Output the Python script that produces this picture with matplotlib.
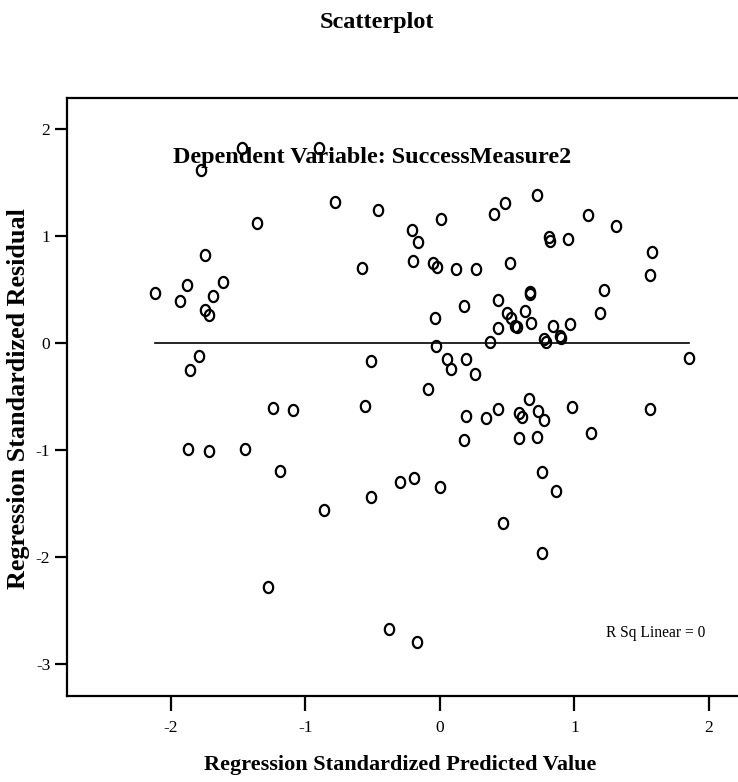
import numpy as np
import matplotlib
matplotlib.use("Agg")
import matplotlib.pyplot as plt
from matplotlib.path import Path

plt.rcParams['font.family'] = ['Liberation Serif', 'DejaVu Serif']
plt.rcParams['axes.unicode_minus'] = False

# ---- data ----
pred_x = [
    -2.12, -1.93, -1.88, -1.75, -1.69, -1.75, -1.72, -1.61, -1.78, -1.47,
    -0.90, -1.36, -0.78, -0.46, -0.58, -1.86, -1.79, -1.87, -1.72, -1.45,
    -1.24, -1.09, -1.19, -1.28, -0.86, -0.51, -0.56, -0.51,
    -0.21, -0.16, 0.01, -0.20, -0.05, -0.02, 0.12, 0.27, 0.40, 0.48,
    0.72, 0.52, 0.81, 0.82, 0.95, 1.10, 1.31, 1.58, 1.56, 0.67,
    0.67, 1.22, 1.19, 0.18, -0.04, 0.43, 0.50, 0.53, 0.56, 0.57,
    0.63, 0.68, 0.43, 0.84, 0.97, 0.89, 0.90, 0.77, 0.79, 0.37,
    -0.03, 1.85, 0.05, 0.08, 0.19, 0.26, -0.09,
    0.66, 0.43, 0.19, 0.34, 0.59, 0.61, 0.73, 0.77, 0.98, 1.56,
    1.12, 0.18, 0.59, 0.72, -0.30, -0.19, 0.00, 0.76, 0.86, 0.47,
    0.76, -0.38, -0.17,
]
resid_y = [
    0.47, 0.39, 0.54, 0.82, 0.44, 0.31, 0.26, 0.57, 1.62, 1.82,
    1.82, 1.12, 1.32, 1.24, 0.70, -0.25, -0.12, -0.99, -1.01, -0.99,
    -0.61, -0.63, -1.20, -2.28, -1.56, -1.44, -0.59, -0.17,
    1.06, 0.94, 1.16, 0.77, 0.75, 0.71, 0.69, 0.69, 1.21, 1.31,
    1.38, 0.75, 0.99, 0.95, 0.97, 1.20, 1.09, 0.85, 0.64, 0.48,
    0.46, 0.50, 0.28, 0.35, 0.23, 0.40, 0.28, 0.23, 0.16, 0.15,
    0.30, 0.19, 0.14, 0.16, 0.18, 0.07, 0.05, 0.04, 0.01, 0.01,
    -0.03, -0.14, -0.15, -0.24, -0.15, -0.29, -0.43,
    -0.52, -0.62, -0.68, -0.70, -0.65, -0.69, -0.64, -0.72, -0.60, -0.62,
    -0.84, -0.91, -0.89, -0.88, -1.30, -1.26, -1.35, -1.21, -1.38, -1.68,
    -1.96, -2.67, -2.79,
]
fit_slope = 0.0
fit_intercept = 0.0
x_ticks = [-2, -1, 0, 1, 2]
y_ticks = [-3, -2, -1, 0, 1, 2]

title = "Scatterplot"
subtitle = "Dependent Variable: SuccessMeasure2"
x_label = "Regression Standardized Predicted Value"
y_label = "Regression Standardized Residual"
r2_text = "R Sq Linear = 0"

# ---- figure ----
W, H = 738, 782
fig = plt.figure(figsize=(W / 100, H / 100), dpi=100)
L, R, T, B = 67, 745, 98, 696
ax = fig.add_axes([L / W, (H - B) / H, (R - L) / W, (B - T) / H])

# slightly narrow open-circle marker
th = np.linspace(0, 2 * np.pi, 72)
ell = Path(np.column_stack([0.84 * np.cos(th), np.sin(th)]))

ax.plot(pred_x, resid_y, linestyle='none', marker=ell, markersize=8.0,
        markerfacecolor='none', markeredgecolor='black', markeredgewidth=1.6,
        zorder=3)

xs = np.array([min(pred_x), max(pred_x)])
ax.plot(xs, fit_intercept + fit_slope * xs, color='black', linewidth=1.2, zorder=2)

ax.set_xlim(-2.773, 2.268)
ax.set_ylim(-3.299, 2.290)
ax.set_xticks(x_ticks)
ax.set_yticks(y_ticks)
ax.set_xticklabels([str(v) for v in x_ticks])
ax.set_yticklabels([str(v) for v in y_ticks])

for s in ax.spines.values():
    s.set_linewidth(1.6)
ax.tick_params(axis='x', length=11, width=1.6, pad=6, labelsize=12.5)
ax.tick_params(axis='y', length=9, width=1.6, pad=3, labelsize=12.5)

ax.set_xlabel(x_label, fontsize=16, fontweight='bold', va='baseline')
ax.xaxis.set_label_coords((400 - L) / (R - L), (B - 770) / (B - T))
ax.set_ylabel(y_label, fontsize=18.8, fontweight='bold', va='center')
ax.yaxis.set_label_coords((19 - L) / (R - L), (B - 399) / (B - T))

fig.suptitle(title, x=376.5 / W, y=1 - 28 / H, va='baseline',
             fontsize=17.5, fontweight='bold')

ax.text((173 - L) / (R - L), (B - 163) / (B - T), subtitle, transform=ax.transAxes,
        ha='left', va='baseline', fontsize=17.4, fontweight='bold', zorder=4)
ax.text((606 - L) / (R - L), (B - 636.7) / (B - T), r2_text, transform=ax.transAxes,
        ha='left', va='baseline', fontsize=11.2)

fig.savefig("out.png", dpi=100)
